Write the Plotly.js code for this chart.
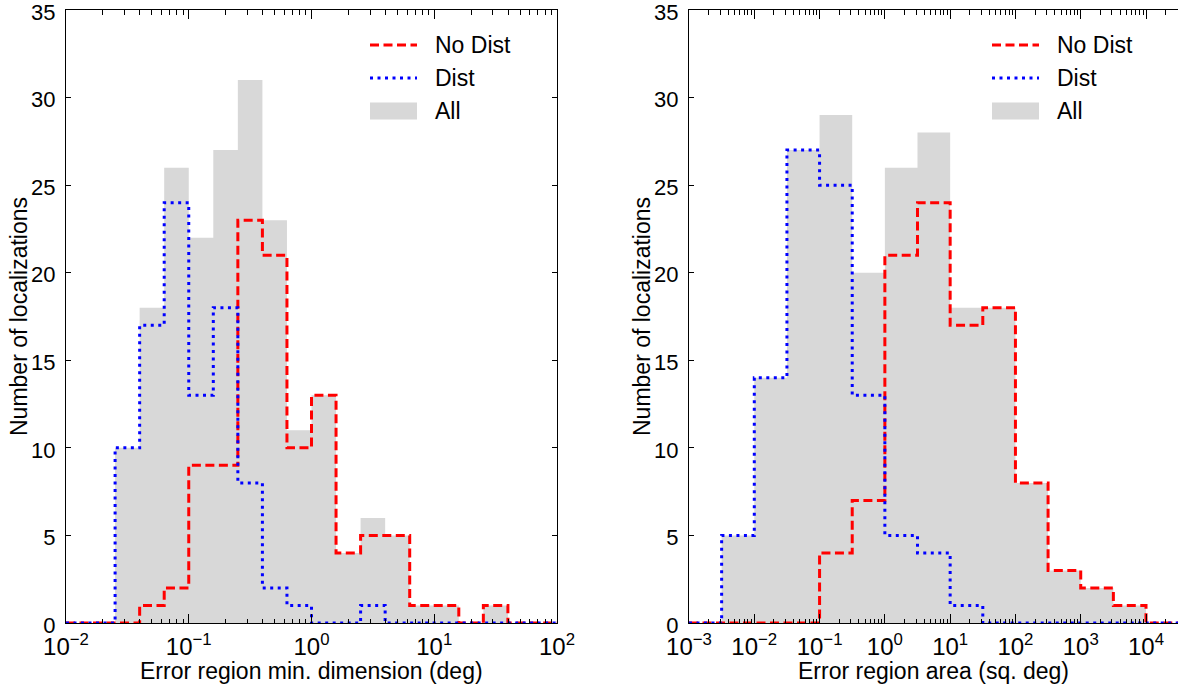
<!DOCTYPE html>
<html>
<head>
<meta charset="utf-8">
<script src="https://cdn.plot.ly/plotly-3.0.1.min.js"></script>
<style>html,body{margin:0;padding:0;background:#fff}#chart{width:1178px;height:691px}</style>
</head>
<body>
<div id="chart"></div>
<script>
// ---- Data (counts per log-spaced bin) ----
// Left panel: bins of 0.2 decade from 10^-2 to 10^2
const leftBinStartLog = -2;
const leftBinWidthLog = 0.2;
const leftNoDist = [0,0,0,1,2,9,9,23,21,10,13,4,5,5,1,1,0,1,0,0];
const leftDist   = [0,0,10,17,24,13,18,8,2,1,0,0,1,0,0,0,0,0,0,0];
const leftAll    = [0,0,10,18,26,22,27,31,23,11,13,4,6,5,1,1,0,1,0,0];

// Right panel: bins of 0.5 decade from 10^-3 to 10^4.5
const rightBinStartLog = -3;
const rightBinWidthLog = 0.5;
const rightNoDist = [0,0,0,0,4,7,21,24,17,18,8,3,2,1,0];
const rightDist   = [0,5,14,27,25,13,5,4,1,0,0,0,0,0,0];
const rightAll    = [0,5,14,27,29,20,26,28,18,18,8,3,2,1,0];

const seriesNames = ['No Dist', 'Dist', 'All'];
const leftXTickVals = [1e-2, 1e-1, 1e0, 1e1, 1e2];
const leftXTickText = ['10<sup>\u22122</sup>','10<sup>\u22121</sup>','10<sup>0</sup>','10<sup>1</sup>','10<sup>2</sup>'];
const rightXTickVals = [1e-3, 1e-2, 1e-1, 1e0, 1e1, 1e2, 1e3, 1e4];
const rightXTickText = ['10<sup>\u22123</sup>','10<sup>\u22122</sup>','10<sup>\u22121</sup>','10<sup>0</sup>','10<sup>1</sup>','10<sup>2</sup>','10<sup>3</sup>','10<sup>4</sup>'];
const yTickVals = [0,5,10,15,20,25,30,35];
const xTitles = ['Error region min. dimension (deg)', 'Error region area (sq. deg)'];
const yTitle = 'Number of localizations';

// ---- helpers ----
function edges(startLog, widthLog, n) {
  const e = [];
  for (let i = 0; i <= n; i++) e.push(Math.pow(10, startLog + widthLog * i));
  return e;
}
function stepXY(ed, vals) {
  const x = [ed[0]], y = [0];
  for (let i = 0; i < vals.length; i++) { x.push(ed[i]); y.push(vals[i]); }
  x.push(ed[vals.length]); y.push(0);
  return {x, y};
}
function minorVals(lo, hi) {
  const v = [];
  for (let d = lo; d < hi; d++) for (let k = 2; k <= 9; k++) v.push(k * Math.pow(10, d));
  return v;
}

const FONT = 'Liberation Sans, Arial, Helvetica, sans-serif';
const RED = 'rgb(255,0,0)', BLUE = 'rgb(0,0,255)', GRAY = 'rgb(216,216,216)';
const RED_DASH = '9px,4.5px', BLUE_DOT = '3px,4.5px';

function panelTraces(ed, noDist, dist, all, xa, ya) {
  const a = stepXY(ed, all), r = stepXY(ed, noDist), b = stepXY(ed, dist);
  return [
    {type:'scatter', mode:'lines', x:a.x, y:a.y, line:{shape:'hv', width:0, color:GRAY},
     fill:'tozeroy', fillcolor:GRAY, name:seriesNames[2], xaxis:xa, yaxis:ya, showlegend:false, hoverinfo:'skip'},
    {type:'scatter', mode:'lines', x:r.x, y:r.y, line:{shape:'hv', width:3, color:RED, dash:RED_DASH},
     name:seriesNames[0], xaxis:xa, yaxis:ya, showlegend:false},
    {type:'scatter', mode:'lines', x:b.x, y:b.y, line:{shape:'hv', width:3, color:BLUE, dash:BLUE_DOT},
     name:seriesNames[1], xaxis:xa, yaxis:ya, showlegend:false}
  ];
}

const lEdges = edges(leftBinStartLog, leftBinWidthLog, leftAll.length);
const rEdges = edges(rightBinStartLog, rightBinWidthLog, rightAll.length);

const data = [
  ...panelTraces(lEdges, leftNoDist, leftDist, leftAll, 'x', 'y'),
  ...panelTraces(rEdges, rightNoDist, rightDist, rightAll, 'x2', 'y2')
];

const W = 1178, H = 691;
const px = v => v / W, py = v => 1 - v / H;
const PLOT_TOP = 10, PLOT_BOTTOM = 623;
const yDom = [py(PLOT_BOTTOM), py(PLOT_TOP)];
const xTickFont = {family:FONT, size:24, color:'#000'};
const yTickFont = {family:FONT, size:22, color:'#000'};
const titleFont = {family:FONT, size:23, color:'#000'};

function xAxis(range, dom, tv, tt, minLo, minHi, anchor) {
  return {
    type:'log', range:range, domain:dom, anchor:anchor,
    tickmode:'array', tickvals:tv, ticktext:tt,
    ticks:'inside', ticklen:9, tickwidth:1, tickcolor:'#000',
    showline:true, linecolor:'#000', linewidth:1, mirror:'allticks',
    showgrid:false, zeroline:false, tickfont:xTickFont,
    ticklabelstandoff:2, ticklabeloverflow:'allow',
    minor:{tickmode:'array', tickvals:minorVals(minLo, minHi), ticks:'inside', ticklen:4.5, tickwidth:1, tickcolor:'#000', showgrid:false},
    title:{text:''},
    automargin:false, fixedrange:true
  };
}
function yAxis(anchor, mirror) {
  return {
    range:[0,35], domain:yDom, anchor:anchor,
    tickmode:'array', tickvals:yTickVals,
    ticks:'inside', ticklen:5, tickwidth:1, tickcolor:'#000',
    showline:true, linecolor:'#000', linewidth:1, mirror:mirror,
    showgrid:false, zeroline:false, tickfont:yTickFont,
    ticklabelstandoff:5, ticklabelshift:2, ticklabeloverflow:'allow',
    title:{text:''},
    automargin:false, fixedrange:true
  };
}

// ---- axis titles (placed as text like matplotlib labels) ----
function axisTitles(plotLeft, plotRight, xTitle) {
  return [
    {xref:'paper', yref:'paper', x:px((plotLeft+plotRight)/2), y:py(671), xanchor:'center', yanchor:'middle',
     text:xTitle, showarrow:false, font:titleFont},
    {xref:'paper', yref:'paper', x:px(plotLeft-47.5), y:py((PLOT_TOP+PLOT_BOTTOM)/2), xanchor:'center', yanchor:'middle',
     text:yTitle, textangle:-90, showarrow:false, font:titleFont}
  ];
}

// ---- legends (matplotlib style: 47px swatches) ----
const legendRowsY = [45, 78, 111];
function legendItems(x0) {
  const shapes = [
    {type:'line', xref:'paper', yref:'paper', x0:px(x0), x1:px(x0+47), y0:py(legendRowsY[0]), y1:py(legendRowsY[0]),
     line:{color:RED, width:3, dash:RED_DASH}},
    {type:'line', xref:'paper', yref:'paper', x0:px(x0), x1:px(x0+47), y0:py(legendRowsY[1]), y1:py(legendRowsY[1]),
     line:{color:BLUE, width:3, dash:BLUE_DOT}},
    {type:'rect', xref:'paper', yref:'paper', x0:px(x0), x1:px(x0+47), y0:py(legendRowsY[2]-8.5), y1:py(legendRowsY[2]+8.5),
     line:{width:0}, fillcolor:GRAY}
  ];
  const annotations = seriesNames.map((name, i) => ({
    xref:'paper', yref:'paper', x:px(x0+63), y:py(legendRowsY[i]), xanchor:'left', yanchor:'middle',
    text:name, showarrow:false, font:{family:FONT, size:23, color:'#000'}
  }));
  return {shapes, annotations};
}
const legL = legendItems(370), legR = legendItems(992);

const layout = {
  width:W, height:H, margin:{l:0, r:0, t:0, b:0},
  paper_bgcolor:'#fff', plot_bgcolor:'#fff', showlegend:false,
  font:{family:FONT, color:'#000'},
  xaxis: xAxis([-2, 2], [66/W, 557/W], leftXTickVals, leftXTickText, -2, 2, 'y'),
  yaxis: yAxis('x', 'allticks'),
  xaxis2: xAxis([-3, 4.49], [689/W, 1], rightXTickVals, rightXTickText, -3, 5, 'y2'),
  yaxis2: yAxis('x2', false),
  shapes: [...legL.shapes, ...legR.shapes],
  annotations: [...axisTitles(66, 557, xTitles[0]), ...axisTitles(689, 1178, xTitles[1]),
                ...legL.annotations, ...legR.annotations]
};

Plotly.newPlot('chart', data, layout, {staticPlot:true, displayModeBar:false});
</script>
</body>
</html>
